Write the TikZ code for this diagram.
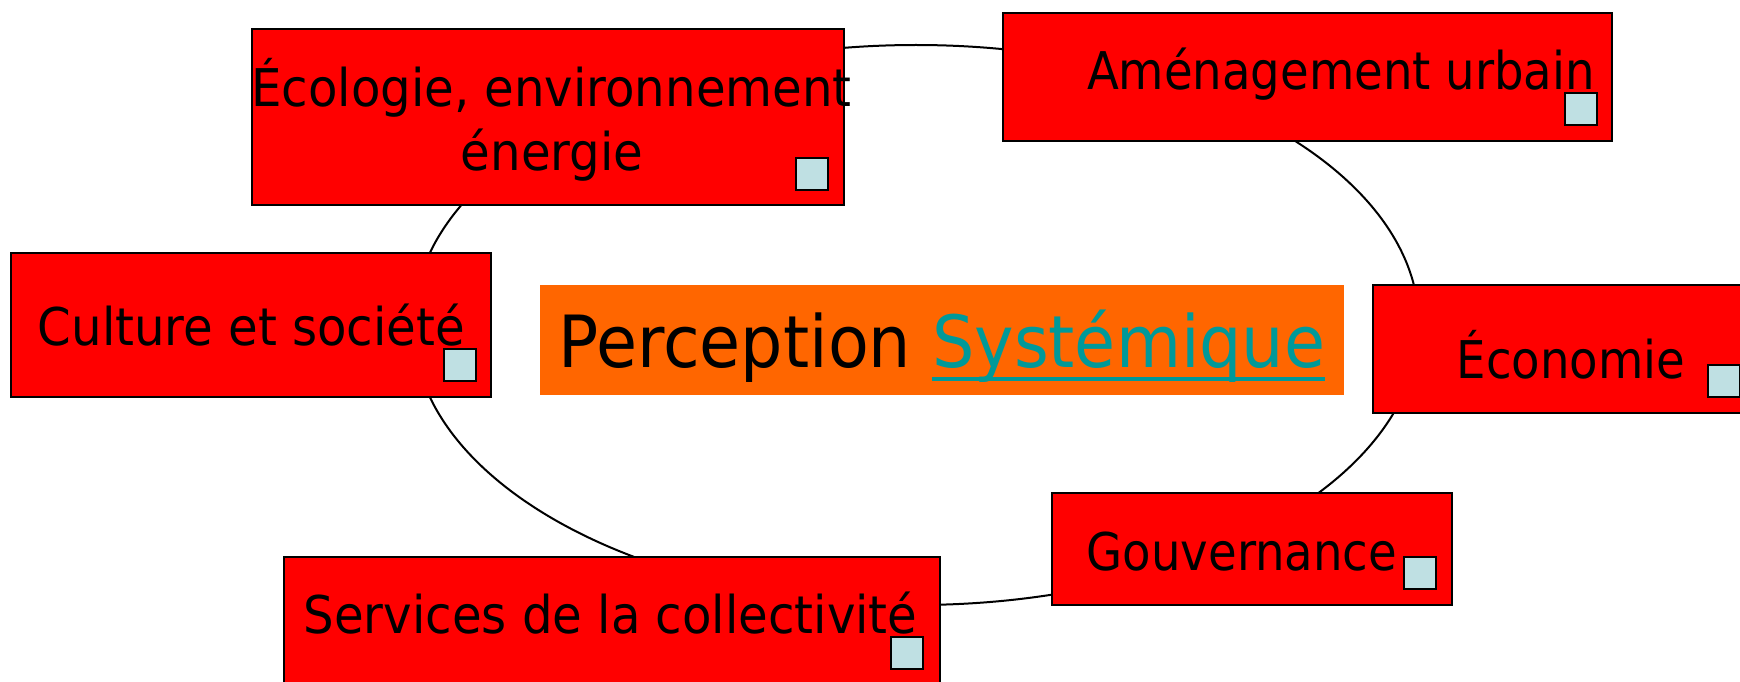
\documentclass[tikz,border=0pt]{standalone}
\usepackage{fontspec}
\setmainfont{DejaVu Sans Condensed}[FakeStretch=1.03]
\newfontfamily\narrowlabelfont{DejaVu Sans Condensed}[FakeStretch=0.995]
\definecolor{boxred}{RGB}{255,0,0}
\definecolor{centreorange}{RGB}{255,102,0}
\definecolor{linkteal}{RGB}{0,153,153}
\definecolor{markblue}{RGB}{191,224,227}
\newcommand\myulink[1]{\setbox0\hbox{#1}\rlap{\color{linkteal}\rule[-14pt]{\wd0}{4pt}}\box0}
\begin{document}
\begin{tikzpicture}[x=1pt,y=-1pt,
  redbox/.style={draw=black,fill=boxred,line width=2pt,inner sep=0pt,outer sep=0pt},
  markbox/.style={draw=black,fill=markblue,line width=1.6pt,inner sep=0pt,outer sep=0pt,minimum width=32pt,minimum height=32pt},
  label/.style={anchor=base,inner sep=0pt,font=\fontsize{52}{63}\selectfont},
  narrowlabel/.style={label,font=\narrowlabelfont\fontsize{52}{63}\selectfont},
  ring/.style={draw=black,line width=2pt}]
\useasboundingbox (0,0) rectangle (1740,682);
\fill[white] (0,0) rectangle (1740,682);
\clip (0,0) rectangle (1740,682);
% ring behind the boxes
\draw[ring] (916,325) ellipse [x radius=503pt, y radius=280pt];
% boxes
\node[redbox,minimum width=592pt,minimum height=176pt] (ecol) at (548,117) {};
\node[redbox,minimum width=609pt,minimum height=128pt] (amen) at (1307.5,77) {};
\node[redbox,minimum width=480pt,minimum height=144pt] (cult) at (251,325) {};
\node[redbox,minimum width=384pt,minimum height=128pt] (econ) at (1565,349) {};
\node[redbox,minimum width=400pt,minimum height=112pt] (gouv) at (1252,549) {};
\node[redbox,minimum width=656pt,minimum height=148pt] (serv) at (612,631) {};
\node[fill=centreorange,inner sep=0pt,minimum width=804pt,minimum height=110pt] (centre) at (942,340) {};
% labels
\node[label] (ecoltxtA) at (551.5,107) {Écologie, environnement};
\node[label] (ecoltxtB) at (552,170) {énergie};
\node[narrowlabel] (amentxt) at (1341,90) {Aménagement urbain};
\node[label] (culttxt) at (251.5,345) {Culture et société};
\node[narrowlabel] (econtxt) at (1571,378) {Économie};
\node[narrowlabel] (gouvtxt) at (1242,570) {Gouvernance};
\node[label] (servtxt) at (610.5,633) {Services de la collectivité};
\node[anchor=base,inner sep=0pt,font=\fontsize{72}{80}\selectfont] (centretxt) at (942,367) {Perception \textcolor{linkteal}{\myulink{Systémique}}};
% small marks
\node[markbox] (ecolmark) at (812,174) {};
\node[markbox] (amenmark) at (1581,109) {};
\node[markbox] (cultmark) at (460,365) {};
\node[markbox] (econmark) at (1724,381) {};
\node[markbox] (gouvmark) at (1420,573) {};
\node[markbox] (servmark) at (907,653) {};
\end{tikzpicture}
\end{document}
